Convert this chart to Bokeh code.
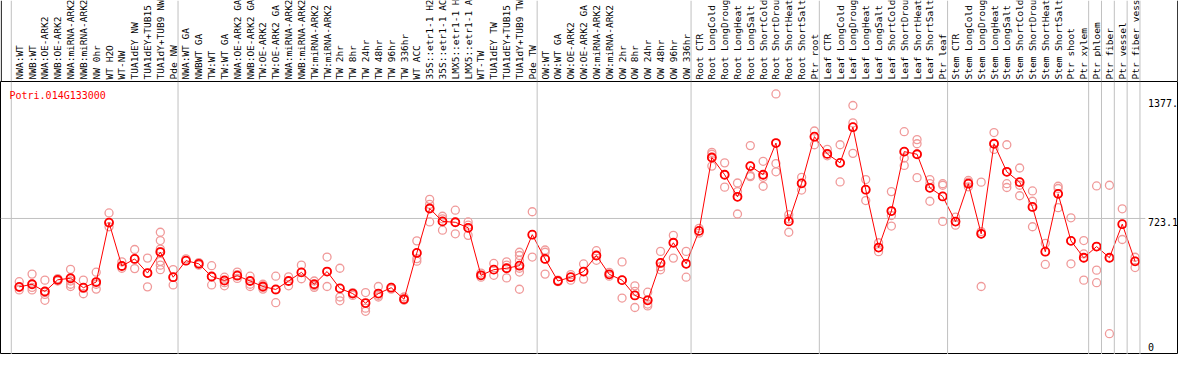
import numpy as np
from bokeh.plotting import figure
from bokeh.models import Range1d, Span, Label
from bokeh.layouts import column
from bokeh.core.properties import value
from bokeh.embed import file_html
from bokeh.resources import INLINE

gene_id = "Potri.014G133000"

samples = [
    "NWA:WT", "NWB:WT", "NWA:OE-ARK2", "NWB:OE-ARK2", "NWA:miRNA-ARK2", "NWB:miRNA-ARK2",
    "NW 0hr", "WT H2O", "WT-NW", "TUA1dEY NW", "TUA1dEY+TUB15 NW", "TUA1dY+TUB9 NW", "Pde NW",
    "NWA:WT GA", "NWBWT GA", "TW:WT", "TW:WT GA", "NWA:OE-ARK2 GA", "NWB:OE-ARK2 GA",
    "TW:OE-ARK2", "TW:OE-ARK2 GA", "NWA:miRNA-ARK2 GA", "NWB:miRNA-ARK2 GA", "TW:miRNA-ARK2",
    "TW:miRNA-ARK2 GA", "TW 2hr", "TW 8hr", "TW 24hr", "TW 48hr", "TW 96hr", "TW 336hr",
    "WT ACC", "35S::etr1-1 H2O", "35S::etr1-1 ACC", "LMX5::etr1-1 H2O", "LMX5::etr1-1 ACC",
    "WT-TW", "TUA1dEY TW", "TUA1dEY+TUB15 TW", "TUA1dY+TUB9 TW", "Pde TW",
    "OW:WT", "OW:WT GA", "OW:OE-ARK2", "OW:OE-ARK2 GA", "OW:miRNA-ARK2", "OW:miRNA-ARK2 GA",
    "OW 2hr", "OW 8hr", "OW 24hr", "OW 48hr", "OW 96hr", "OW 336hr",
    "Root CTR", "Root LongCold", "Root LongDrought", "Root LongHeat", "Root LongSalt",
    "Root ShortCold", "Root ShortDrought", "Root ShortHeat", "Root ShortSalt", "Ptr root",
    "Leaf CTR", "Leaf LongCold", "Leaf LongDrought", "Leaf LongHeat", "Leaf LongSalt",
    "Leaf ShortCold", "Leaf ShortDrought", "Leaf ShortHeat", "Leaf ShortSalt", "Ptr leaf",
    "Stem CTR", "Stem LongCold", "Stem LongDrought", "Stem LongHeat", "Stem LongSalt",
    "Stem ShortCold", "Stem ShortDrought", "Stem ShortHeat", "Stem ShortSalt", "Ptr shoot",
    "Ptr xylem", "Ptr phloem", "Ptr fiber", "Ptr vessel", "Ptr fiber vessel",
]

means = [
    326, 341, 299, 367, 376, 321, 354, 699, 447, 488, 406, 528, 382,
    478, 460, 386, 363, 391, 360, 328, 311, 360, 410, 341, 415, 317, 287, 232, 287, 321,
    254, 523, 781, 706, 701, 669, 393, 426, 434, 449, 629,
    488, 360, 382, 415, 508, 399, 365, 276, 248, 465, 582, 460,
    651, 1077, 977, 849, 1027, 977, 1161, 706, 927, 1198,
    1098, 1046, 1253, 890, 554, 766, 1111, 1096, 901, 851,
    705, 925, 634, 1157, 994, 934, 790, 530, 866, 593,
    495, 560, 495, 690, 474,
]

replicates = [
    [356, 322, 308], [400, 341, 323, 308], [365, 299, 282, 248], [374, 367, 360],
    [428, 360, 341, 328], [365, 317, 286], [411, 354, 341, 313], [755, 699, 675],
    [471, 447, 434], [543, 488, 432], [493, 406, 326], [643, 595, 545, 530, 474, 452, 426],
    [426, 382, 337],
    [489, 478], [467, 452], [449, 386, 337], [382, 350, 332], [412, 397, 375],
    [388, 341, 328], [341, 323, 313], [388, 308, 234], [384, 332], [452, 410, 373],
    [360, 332, 323], [499, 415, 328], [434, 317, 267, 245], [293, 276],
    [293, 230, 202, 184], [328, 276, 267], [323, 313], [267, 249], [593, 523, 490, 475],
    [834, 805, 781, 703], [736, 721, 706, 655], [771, 701, 634], [703, 684, 669, 625],
    [406, 393, 382], [462, 426, 393], [471, 452, 434, 378], [527, 508, 480, 434, 412, 312],
    [762, 629, 499],
    [540, 527, 488, 400], [365, 356], [397, 365], [459, 415, 371], [536, 508, 480],
    [410, 397, 388], [471, 365, 261], [332, 300, 276, 206], [295, 249, 226, 215],
    [532, 465, 443, 425], [625, 582, 493], [532, 460, 382],
    [666, 651, 638], [1107, 1096, 1077, 1027], [1046, 977, 905], [929, 879, 849, 749],
    [1146, 1027, 972, 966], [1055, 977, 962, 910], [1446, 1161, 1042, 994],
    [745, 721, 706, 643], [962, 927, 888], [1231, 1198, 1151],
    [1124, 1098, 1087], [1151, 1046, 935], [1379, 1278, 1253, 1101], [949, 890, 827],
    [582, 554, 530], [879, 766, 740, 679], [1227, 1111, 1074, 1031],
    [1181, 1157, 1096, 960], [949, 925, 901, 823], [925, 916, 851, 706],
    [731, 705, 684], [944, 934, 925, 907], [934, 647, 634, 328], [1222, 1157, 1124],
    [1151, 994, 925, 903], [1016, 934, 916, 855], [883, 823, 790, 675], [579, 530, 456],
    [910, 897, 866, 786], [727, 593, 460],
    [595, 517, 495, 365], [912, 560, 423, 350], [916, 495, 54], [779, 690, 601],
    [498, 475, 438],
]

group_ends = [0, 13, 41, 53, 63, 73, 84, 85, 86, 87, 88]

tick_values = [0, 723.1, 1377.3]
tick_labels = ["0", "723.1", "1377."]

# ---------------------------------------------------------------- layout
W, H = 1178, 354
TOP_H = 81
MAIN_H = H - TOP_H
FONT = value("DejaVu Sans Mono")
SEP_COLOR = "#c0c0c0"
LINE_RED = "#ff0000"
REP_RED = "#f09a9a"

n = len(samples)
xs = np.arange(1, n + 1)
x_range = Range1d(-0.4615, 91.385)

all_reps = [v for r in replicates for v in r]
y_top = 1.05 * max(all_reps)
y_bot = -y_top * 12.0 / 273.0

# ---------------------------------------------------------------- label strip
top = figure(width=W, height=TOP_H, x_range=x_range, y_range=Range1d(0, TOP_H),
             toolbar_location=None, output_backend="svg", min_border=0)
top.axis.visible = False
top.grid.visible = False
top.outline_line_color = None
top.background_fill_color = "white"
top.border_fill_color = "white"

top.text(x=xs, y=[2] * n, text=samples, angle=np.pi / 2,
         text_align="left", text_baseline="middle",
         text_font=FONT, text_font_size="9.5px", text_color="black")

for g in group_ends:
    top.add_layout(Span(location=g + 0.38, dimension="height",
                        line_color=SEP_COLOR, line_width=1))
for loc in (x_range.start + 0.06, x_range.end - 0.06):
    top.add_layout(Span(location=loc, dimension="height",
                        line_color="black", line_width=1))

# ---------------------------------------------------------------- main plot
p = figure(width=W, height=MAIN_H, x_range=x_range, y_range=Range1d(y_bot, y_top),
           toolbar_location=None, output_backend="svg", min_border=0)
p.axis.visible = False
p.grid.visible = False
p.outline_line_color = "black"
p.outline_line_width = 1
p.background_fill_color = "white"
p.border_fill_color = "white"

for g in group_ends:
    p.add_layout(Span(location=g + 0.38, dimension="height",
                      line_color=SEP_COLOR, line_width=1))

# mid grid line
p.segment(x0=[x_range.start], y0=[tick_values[1]], x1=[88.8], y1=[tick_values[1]],
          line_color=SEP_COLOR, line_width=1)

rep_x = [xs[i] for i, r in enumerate(replicates) for _ in r]
rep_y = [v for r in replicates for v in r]
p.scatter(x=rep_x, y=rep_y, marker="circle", size=8, fill_alpha=0,
          line_color=REP_RED, line_width=1.3)

p.line(x=xs, y=means, line_color=LINE_RED, line_width=1)
p.scatter(x=xs, y=means, marker="circle", size=8, fill_color="white", fill_alpha=0.0,
          line_color=LINE_RED, line_width=1.8)

offsets = [0, 0, -7]
p.text(x=[n + 1] * len(tick_values), y=tick_values, text=tick_labels, y_offset=offsets,
       text_align="left", text_baseline="top", text_font=FONT,
       text_font_size="10px", text_color="black")

p.add_layout(Label(x=9, y=MAIN_H - 8, x_units="screen", y_units="screen",
                   text=gene_id, text_color=LINE_RED, text_font="DejaVu Sans Mono",
                   text_font_size="10px", text_baseline="top"))

layout = column(top, p, spacing=0)
open("out.html", "w").write(file_html(layout, INLINE))
